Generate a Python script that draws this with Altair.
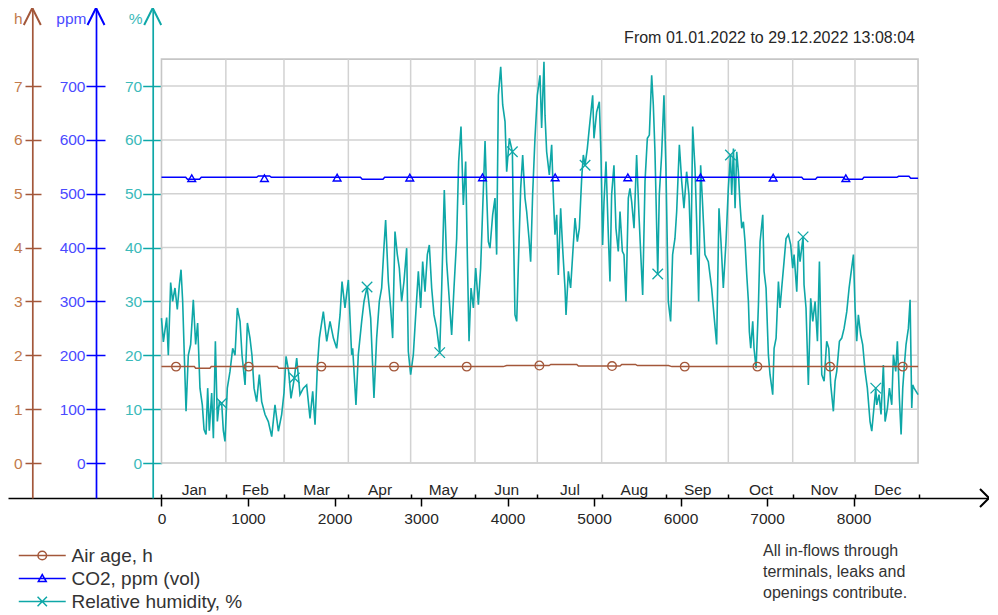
import altair as alt
import pandas as pd

FONT = "Liberation Sans"

# ---------------- data ----------------
rh_points = [
    (0, 26.9), (22, 22.5), (60, 27), (79, 20), (106, 33.5), (129, 30), (156, 32.5), (183, 28.5),
    (206, 33), (226, 35.9), (245, 30), (260, 22), (284, 9.6), (310, 20), (337, 22), (368, 30.3),
    (395, 22), (418, 26), (445, 13.9), (472, 10.8), (492, 6.2), (515, 5.3), (534, 13.9), (553, 6),
    (580, 13), (600, 4.6), (623, 22.6), (646, 7.7), (669, 11.4), (696, 11.1), (715, 6), (734, 4.0),
    (761, 13.9), (792, 17), (823, 21.3), (850, 20), (877, 28.8), (908, 26.3), (931, 20), (966, 14.5),
    (993, 26), (1023, 23.2), (1046, 20), (1070, 13.9), (1100, 11.4), (1131, 16.4), (1158, 11.4),
    (1197, 9), (1235, 7.7), (1274, 4.9), (1312, 10.8), (1351, 5.9), (1389, 9), (1416, 13),
    (1440, 19.8), (1470, 17), (1497, 12), (1536, 15.8), (1563, 19.5), (1601, 12.7), (1640, 13.9),
    (1678, 14.5), (1717, 8.3), (1748, 13.3), (1775, 7.1), (1802, 18), (1825, 23.2), (1871, 28.1),
    (1910, 22.6), (1948, 26.3), (1987, 23.2), (2025, 21.3), (2064, 27.5), (2087, 33.7), (2121, 28.8),
    (2160, 34), (2198, 20.1),
    (2210, 21.3), (2248, 10.8), (2275, 20.1), (2314, 26.3), (2341, 30.0), (2376, 32.7), (2418, 26.9),
    (2456, 12.1), (2487, 23.2), (2518, 30.0), (2545, 32.5), (2572, 40.2), (2591, 45.1), (2622, 33.7),
    (2649, 28.8), (2672, 23.2), (2699, 43.0), (2726, 38.7), (2749, 36.2), (2776, 30.0), (2803, 33.7),
    (2834, 39.9), (2853, 20.7), (2880, 16.4), (2911, 20.1), (2934, 26.3), (2969, 35.6), (2996, 28.8),
    (3019, 37.4), (3046, 31.8), (3073, 38.7), (3096, 40.5), (3123, 32.5), (3150, 27.5), (3181, 25.0),
    (3216, 20.5), (3239, 32.5), (3269, 50.7), (3296, 37.4), (3323, 31.2), (3354, 23.8), (3381, 32.5),
    (3412, 41.7), (3435, 56.0), (3462, 62.5), (3489, 47.9), (3516, 56.0), (3535, 38.7), (3555, 22.6),
    (3578, 32.5), (3605, 28.8), (3632, 36.2), (3663, 29.4), (3689, 36.2), (3713, 47.3), (3740, 59.8),
    (3759, 49.8), (3778, 41.1), (3797, 39.9), (3828, 46.1), (3855, 49.2), (3874, 38.7), (3894, 68.3),
    (3921, 73.6), (3944, 66.5), (3971, 63.4), (3990, 54.1), (4021, 60.3), (4056, 57.8), (4067, 44.8),
    (4086, 27.5), (4106, 26.3), (4133, 41.1), (4152, 51.0), (4175, 57.2), (4202, 49.2), (4221, 46.7),
    (4248, 41.7), (4267, 37.4), (4290, 49.8), (4317, 60.3), (4344, 68.3), (4375, 72.0),
    (4394, 62.2), (4421, 74.5), (4433, 64.6), (4452, 57.8), (4483, 53.5), (4510, 59.1), (4529, 49.8),
    (4548, 42.4), (4568, 46.1), (4587, 34.9), (4614, 47.3), (4637, 39.9), (4664, 32.5), (4676, 27.5),
    (4703, 35.6), (4729, 32.5), (4753, 38.7), (4780, 45.5), (4807, 41.1), (4830, 43.6), (4857, 52.9),
    (4876, 57.2), (4896, 55.3), (4922, 58.4), (4945, 62.2), (4984, 68.3), (4999, 60.3), (5030, 65.2),
    (5061, 67.1), (5080, 57.2), (5099, 40.5), (5115, 48.5), (5138, 56.0), (5165, 42.4), (5184, 33.7),
    (5203, 49.8), (5230, 55.3), (5253, 43.6), (5280, 39.3), (5300, 46.7), (5327, 39.3), (5346, 38.7),
    (5369, 30.0), (5396, 49.2), (5415, 51.0), (5435, 48.5), (5462, 43.6), (5492, 57.2), (5519, 46.1),
    (5542, 38.0), (5562, 31.2), (5589, 52.3), (5616, 60.3), (5639, 60.9), (5666, 72.0), (5685, 66.5),
    (5704, 57.8), (5736, 35.1), (5754, 49.8), (5781, 57.2), (5808, 68.3), (5831, 54.7), (5858, 30.0),
    (5885, 26.3), (5908, 38.7), (5935, 41.7), (5955, 46.7), (5986, 59.1), (6013, 52.3), (6039, 47.3),
    (6070, 54.1), (6097, 49.8), (6120, 38.7), (6140, 62.5), (6167, 54.7), (6186, 44.8), (6209, 30.0),
    (6232, 55.3), (6255, 47.9), (6282, 38.7), (6321, 37.4), (6359, 32.5), (6386, 27.5), (6417, 22.0),
    (6444, 47.3), (6467, 41.1), (6494, 32.5), (6525, 41.1), (6552, 51.0), (6576, 57.2),
    (6591, 49.8), (6611, 58.4), (6630, 47.3), (6649, 57.8), (6668, 54.1), (6688, 47.9), (6707, 43.6),
    (6726, 44.8), (6745, 41.1), (6765, 34.9), (6784, 30.0), (6795, 24.4), (6811, 21.3), (6834, 26.3),
    (6849, 21.3), (6873, 17.6), (6900, 29.4), (6919, 41.1), (6950, 46.1), (6965, 35.6), (6988, 32.5),
    (7015, 20.1), (7034, 16.4), (7065, 12.7), (7081, 21.3), (7104, 23.2), (7131, 33.7), (7150, 28.8),
    (7169, 32.5), (7196, 37.4), (7219, 41.7), (7246, 42.4), (7273, 40.5), (7296, 36.2), (7312, 38.7),
    (7343, 31.8), (7362, 41.1), (7381, 37.4), (7416, 42.0), (7427, 33.1), (7450, 28.8), (7477, 14.5),
    (7504, 30.6), (7528, 26.3), (7555, 30.0), (7582, 22.6), (7605, 37.4), (7632, 16.4), (7659, 15.2),
    (7689, 22.6), (7713, 21.3), (7736, 14.5), (7766, 9.6), (7786, 15.2), (7805, 17.0), (7836, 22.6),
    (7863, 23.2), (7890, 25.0), (7921, 28.1), (7948, 32.5), (7967, 34.9), (7998, 38.7), (8017, 28.8),
    (8036, 22.6), (8055, 27.5), (8082, 23.8), (8105, 22.0), (8133, 17.0), (8159, 13.9), (8190, 7.7),
    (8210, 5.9), (8256, 13.9), (8267, 10.8), (8294, 12.7), (8317, 9.0), (8344, 18.2), (8364, 7.7),
    (8391, 10.2), (8414, 13.9), (8441, 10.8), (8460, 20.1), (8487, 17.0), (8506, 22.6), (8529, 12.1),
    (8549, 5.3), (8568, 13.9), (8587, 18.2), (8606, 22.0), (8633, 25.0), (8653, 30.3), (8672, 10.2),
    (8683, 14.5), (8699, 13.9), (8745, 12.7),
]
rh_marker_hours = [696, 1536, 2376, 3216, 4056, 4896, 5736, 6576, 7416, 8256]
rh_marker_vals = [11.1, 15.8, 32.7, 20.5, 57.8, 55.3, 35.1, 57.2, 42.0, 13.9]

co2_hours = [0, 280, 300, 440, 460, 1100, 1120, 1250, 1270, 2300, 2320, 2560, 2580,
             7400, 7420, 7560, 7580, 7880, 7900, 8100, 8120, 8500, 8520, 8640, 8660, 8745]
co2_vals = [530.5, 530.5, 527, 527, 530.5, 530.5, 533, 533, 530.5, 530.5, 527, 527, 530.5,
            530.5, 527, 527, 530.5, 530.5, 527, 527, 530.5, 530.5, 532.5, 532.5, 529, 529]
co2_marker_hours = [350, 1190, 2030, 2870, 3710, 4550, 5390, 6230, 7070, 7910]
co2_marker_vals = [529, 529, 530, 530, 530.5, 530.5, 530.5, 530.5, 530, 529]

age_hours = [0, 380, 395, 560, 575, 1340, 1355, 1560, 1575, 3950, 3990, 4480, 4500, 4800,
             4820, 5300, 5320, 5480, 5500, 5860, 5900, 8745]
age_vals = [1.79, 1.79, 1.76, 1.76, 1.79, 1.79, 1.76, 1.76, 1.79, 1.79, 1.81, 1.81, 1.83, 1.83,
            1.80, 1.80, 1.83, 1.83, 1.81, 1.81, 1.79, 1.79]
age_marker_hours = [168, 1008, 1848, 2688, 3528, 4368, 5208, 6048, 6888, 7728, 8568]
age_marker_vals = [1.79, 1.79, 1.79, 1.79, 1.79, 1.81, 1.80, 1.79, 1.79, 1.79, 1.79]

month_names = ["Jan", "Feb", "Mar", "Apr", "May", "Jun", "Jul", "Aug", "Sep", "Oct", "Nov", "Dec"]
month_bounds = [0, 744, 1416, 2160, 2880, 3624, 4344, 5088, 5832, 6552, 7296, 8016, 8760]
month_mids = [372, 1080, 1788, 2520, 3252, 3984, 4716, 5460, 6192, 6924, 7656, 8388]
hour_ticks = [0, 1000, 2000, 3000, 4000, 5000, 6000, 7000, 8000]
pct_ticks = [0, 10, 20, 30, 40, 50, 60, 70]
ppm_ticks = [0, 100, 200, 300, 400, 500, 600, 700]
h_ticks = [0, 1, 2, 3, 4, 5, 6, 7]
grid_pct = [10, 20, 30, 40, 50, 60, 70]
plot_end = 8745
plot_top = 75

series_names = ["Air age, h", "CO2, ppm (vol)", "Relative humidity, %"]
title_text = "From 01.01.2022 to 29.12.2022 13:08:04"
note_lines = ["All in-flows through", "terminals, leaks and", "openings contribute."]

# ---------------- styles ----------------
BROWN, BROWN_LBL = "#a3573a", "#c27a4c"
BLUE, BLUE_LBL = "#0000ff", "#4a4aff"
TEAL, TEAL_LBL = "#0ea7a7", "#3bbaba"
GRID = "#d2d2d2"
TXT = "#262626"

W, H = 981, 490
XS = alt.Scale(domain=[-1774, 9565], nice=False, zero=False)
YP = alt.Scale(domain=[-6.5, 84.5], nice=False, zero=False)
YC = alt.Scale(domain=[-65, 845], nice=False, zero=False)
YH = alt.Scale(domain=[-0.65, 8.45], nice=False, zero=False)

XPATH = "M-1,-1L1,1M-1,1L1,-1"
UP = "M-1,1L0,-1L1,1"
RIGHT = "M-0.5,-1L0.5,0L-0.5,1"
# legend glyphs drawn on a doubled unit box (line runs from -2 to 2)
legend_paths = [
    "M-2,0L2,0M0.366,0A0.366,0.366,0,1,1,-0.366,0A0.366,0.366,0,1,1,0.366,0",
    "M-2,0L2,0M-0.34,0.26L0,-0.34L0.34,0.26Z",
    "M-2,0L2,0M-0.4,-0.4L0.4,0.4M-0.4,0.4L0.4,-0.4",
]

def left_ticks(offset, values, color, lcolor, size, pad):
    return alt.Axis(orient="left", offset=offset, values=values, domain=False, ticks=True,
                    tickSize=size, tickColor=color, tickWidth=1.5, labelColor=lcolor,
                    labelFontSize=15.5, labelPadding=pad, title=None, grid=False)

def left_domain(offset, color, lcolor, title, tx):
    return alt.Axis(orient="left", offset=offset, domain=True, domainColor=color, domainWidth=1.7,
                    ticks=False, labels=False, grid=False, title=title, titleAngle=0, titleX=tx,
                    titleY=10, titleAlign="right", titleBaseline="middle", titleColor=lcolor,
                    titleFontSize=15.5, titleFontWeight="normal")

num_axis = alt.Axis(orient="bottom", values=hour_ticks, format="d", domain=True, domainColor="black",
                    domainWidth=1.5, ticks=True, tickColor="black", tickWidth=1.5, tickSize=8,
                    labelFontSize=15.5, labelColor=TXT, labelBaseline="alphabetic", labelPadding=17.8,
                    title=None, grid=False, labelFlush=False, labelOverlap=False)
month_tick_axis = alt.Axis(orient="top", offset=-H, values=month_bounds, labels=False, domain=False,
                           ticks=True, tickSize=4, tickColor="black", tickWidth=1.5, title=None, grid=False)
label_expr = ("[" + ",".join("'%s'" % m for m in month_names) + "][indexof(["
              + ",".join(str(v) for v in month_mids) + "], datum.value)]")
month_label_axis = alt.Axis(orient="top", offset=-H, values=month_mids, labelExpr=label_expr,
                            ticks=False, tickSize=0, domain=False, labelPadding=3.5,
                            labelBaseline="alphabetic", labelFontSize=15.5, labelColor=TXT,
                            title=None, grid=False, labelOverlap=False, labelFlush=False)

# ---------------- frames ----------------
rh_df = pd.DataFrame(rh_points, columns=["h", "v"])
rh_mk = pd.DataFrame({"h": rh_marker_hours, "v": rh_marker_vals})
co2_df = pd.DataFrame({"h": co2_hours, "v": co2_vals})
co2_mk = pd.DataFrame({"h": co2_marker_hours, "v": co2_marker_vals})
age_df = pd.DataFrame({"h": age_hours, "v": age_vals})
age_mk = pd.DataFrame({"h": age_marker_hours, "v": age_marker_vals})
one = pd.DataFrame({"k": [0]})

box = alt.Chart(pd.DataFrame({"x0": [0], "x1": [plot_end], "y0": [0], "y1": [plot_top]})).mark_rect(
    fillOpacity=0, stroke="#c6c6c6", strokeWidth=1.6).encode(
    x=alt.X("x0:Q", scale=XS, axis=month_label_axis), x2="x1:Q",
    y=alt.Y("y0:Q", scale=YP, axis=None), y2="y1:Q")

hgrid = alt.Chart(pd.DataFrame({"y": grid_pct, "x0": 0, "x1": plot_end})).mark_rule(
    color=GRID, strokeWidth=1.5).encode(
    x=alt.X("x0:Q", scale=XS, axis=month_tick_axis), x2="x1:Q",
    y=alt.Y("y:Q", scale=YP, axis=None))

vgrid = alt.Chart(pd.DataFrame({"x": month_bounds[1:-1], "y0": 0, "y1": plot_top})).mark_rule(
    color=GRID, strokeWidth=1.5).encode(
    x=alt.X("x:Q", scale=XS, axis=num_axis),
    y=alt.Y("y0:Q", scale=YP, axis=None), y2="y1:Q")

rh_line = alt.Chart(rh_df).mark_line(color=TEAL, strokeWidth=1.6).encode(
    x=alt.X("h:Q", scale=XS, axis=None),
    y=alt.Y("v:Q", scale=YP, axis=left_ticks(-153.7, pct_ticks, TEAL, TEAL_LBL, 19, 1)))
rh_pts = alt.Chart(rh_mk).mark_point(shape=XPATH, size=110, filled=False, color=TEAL,
                                     strokeWidth=1.3, opacity=1).encode(
    x=alt.X("h:Q", scale=XS, axis=None),
    y=alt.Y("v:Q", scale=YP, axis=left_domain(-144.7, TEAL, TEAL_LBL, "%", -10.7)))

co2_line = alt.Chart(co2_df).mark_line(color=BLUE, strokeWidth=1.5).encode(
    x=alt.X("h:Q", scale=XS, axis=None),
    y=alt.Y("v:Q", scale=YC, axis=left_ticks(-97, ppm_ticks, BLUE, BLUE_LBL, 19, 1)))
co2_pts = alt.Chart(co2_mk).mark_point(shape="triangle-up", size=60, filled=False, color=BLUE,
                                       strokeWidth=1.4, opacity=1).encode(
    x=alt.X("h:Q", scale=XS, axis=None),
    y=alt.Y("v:Q", scale=YC, axis=left_domain(-88, BLUE, BLUE_LBL, "ppm", -10)))

age_line = alt.Chart(age_df).mark_line(color=BROWN, strokeWidth=1.5).encode(
    x=alt.X("h:Q", scale=XS, axis=None),
    y=alt.Y("v:Q", scale=YH, axis=left_ticks(-33, h_ticks, BROWN, BROWN_LBL, 16, 3)))
age_pts = alt.Chart(age_mk).mark_point(shape="circle", size=75, filled=False, color=BROWN,
                                       strokeWidth=1.3, opacity=1).encode(
    x=alt.X("h:Q", scale=XS, axis=None),
    y=alt.Y("v:Q", scale=YH, axis=left_domain(-24.3, BROWN, BROWN_LBL, "h", -10.3)))

leg = alt.Legend(orient="none", legendX=21.75, legendY=535, title=None, padding=0,
                 symbolSize=552, symbolStrokeWidth=1.5, symbolOpacity=1,
                 labelFontSize=19, labelColor="#333333", labelOffset=16.75, rowPadding=0,
                 labelLimit=400, labelFont=FONT)
legend_layer = alt.Chart(pd.DataFrame({"series": series_names})).mark_point(
    filled=False, strokeWidth=1.5).encode(
    color=alt.Color("series:N", scale=alt.Scale(domain=series_names, range=[BROWN, BLUE, TEAL]), legend=leg),
    shape=alt.Shape("series:N", scale=alt.Scale(domain=series_names, range=legend_paths), legend=leg),
).transform_filter("false")

title_layer = alt.Chart(pd.DataFrame({"t": [title_text]})).mark_text(
    align="right", baseline="alphabetic", fontSize=16, color=TXT, font=FONT).encode(
    x=alt.value(907), y=alt.value(34.7), text="t:N")

note_layer = alt.Chart(pd.DataFrame({"t": ["\n".join(note_lines)]})).mark_text(
    align="left", baseline="alphabetic", fontSize=16, color="#333333", font=FONT,
    lineBreak="\n", lineHeight=21).encode(
    x=alt.value(755), y=alt.value(548), text="t:N")

def arrow(shape, color, x, y, size):
    return alt.Chart(one).mark_point(shape=shape, size=size, filled=False, color=color,
                                     strokeWidth=2, opacity=1).encode(
        x=alt.value(x), y=alt.value(y))

arrows = [
    arrow(UP, BROWN, 24.3, 8.5, 289),
    arrow(UP, BLUE, 88, 8.5, 289),
    arrow(UP, TEAL, 144.7, 8.5, 289),
    arrow(RIGHT, "black", W - 4.5, H, 324),
]

chart = alt.layer(
    box, hgrid, vgrid, rh_line, rh_pts, co2_line, co2_pts, age_line, age_pts,
    legend_layer, title_layer, note_layer, *arrows
).resolve_scale(x="independent", y="independent").properties(
    width=W, height=H,
    padding={"left": 0, "top": 0, "right": 0, "bottom": 117},
    autosize=alt.AutoSizeParams(type="none"),
    background="white",
).configure_view(stroke=None).configure_axis(
    grid=False, labelFont=FONT, titleFont=FONT
).configure_legend(labelFont=FONT)

chart.save("out.html", embed_options={"renderer": "svg", "actions": False})
